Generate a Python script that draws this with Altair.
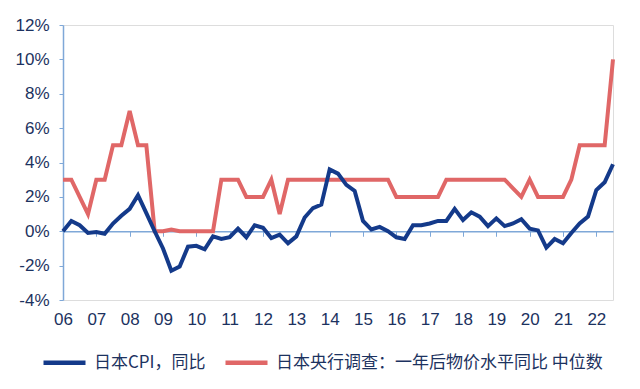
import altair as alt
import pandas as pd

# Quarterly readings, 2006Q1 .. 2022Q3
cpi = [
    0.0, 0.6, 0.35, -0.1,
    -0.05, -0.15, 0.45, 0.9,
    1.3, 2.1, 1.05, 0.0,
    -1.0, -2.3, -2.05, -0.9,
    -0.85, -1.05, -0.3, -0.45,
    -0.35, 0.15, -0.35, 0.35,
    0.2, -0.4, -0.2, -0.7,
    -0.3, 0.8, 1.35, 1.55,
    3.6, 3.35, 2.7, 2.35,
    0.6, 0.1, 0.25, 0.0,
    -0.35, -0.45, 0.35, 0.35,
    0.45, 0.6, 0.6, 1.3,
    0.65, 1.1, 0.85, 0.3,
    0.75, 0.3, 0.45, 0.7,
    0.15, 0.05, -0.95, -0.45,
    -0.7, -0.1, 0.45, 0.85,
    2.4, 2.85, 3.9,
]
survey = [
    3, 3, 2, 1,
    3, 3, 5, 5,
    7, 5, 5, 0,
    0, 0.1, 0, 0,
    0, 0, 0, 3,
    3, 3, 2, 2,
    2, 3, 1, 3,
    3, 3, 3, 3,
    3, 3, 3, 3,
    3, 3, 3, 3,
    2, 2, 2, 2,
    2, 2, 3, 3,
    3, 3, 3, 3,
    3, 3, 2.5, 2,
    3, 2, 2, 2,
    2, 3, 5, 5,
    5, 5, 10,
]
quarters = [2006 + 0.25 * i for i in range(len(cpi))]
year_ticks = list(range(2006, 2023))
y_ticks = [-4, -2, 0, 2, 4, 6, 8, 10, 12]

name_cpi = "日本CPI，同比"
name_survey = "日本央行调查：一年后物价水平同比 中位数"

df_cpi = pd.DataFrame({"t": quarters, "v": cpi, "s": name_cpi})
df_survey = pd.DataFrame({"t": quarters, "v": survey, "s": name_survey})

BLUE = "#143a8a"
RED = "#e06767"
AXIS = "#7fa8d8"
TEXT = "#1c3260"

x_enc = alt.X(
    "t:Q",
    scale=alt.Scale(domain=[2006, 2022.5], nice=False, zero=False),
    axis=alt.Axis(
        values=year_ticks,
        labelExpr="substring(toString(datum.value), 2, 4)",
        title=None,
        grid=False,
        offset=-68.75,
        domainColor=AXIS,
        domainWidth=1.5,
        tickColor=AXIS,
        tickSize=5,
        tickWidth=1,
        labelPadding=75,
        labelFlush=False,
        labelFont="Liberation Sans",
        labelFontSize=17,
        labelColor=TEXT,
    ),
)
y_enc = alt.Y(
    "v:Q",
    scale=alt.Scale(domain=[-4, 12], nice=False),
    axis=alt.Axis(
        values=y_ticks,
        labelExpr="datum.value + '%'",
        title=None,
        grid=False,
        domainColor=AXIS,
        domainWidth=1.5,
        tickColor=AXIS,
        tickSize=4,
        labelPadding=10,
        labelFont="Liberation Sans",
        labelFontSize=17,
        labelColor=TEXT,
    ),
)
color_enc = alt.Color(
    "s:N",
    scale=alt.Scale(domain=[name_cpi, name_survey], range=[BLUE, RED]),
    legend=alt.Legend(
        title=None,
        orient="none",
        direction="horizontal",
        legendX=-22,
        legendY=314,
        symbolType="stroke",
        symbolSize=1764,
        symbolStrokeWidth=4.5,
        labelFont="Noto Sans CJK SC",
        labelFontSize=17,
        labelColor=TEXT,
        labelLimit=0,
        labelOffset=6,
        columnPadding=10,
        padding=0,
    ),
)

red = alt.Chart(df_survey).mark_line(strokeWidth=4).encode(x=x_enc, y=y_enc, color=color_enc)
blue = alt.Chart(df_cpi).mark_line(strokeWidth=4).encode(x=x_enc, y=y_enc, color=color_enc)

chart = (
    alt.layer(red, blue)
    .properties(
        width=550,
        height=275,
        padding={"left": 55, "top": 17, "right": 10, "bottom": 80},
        autosize=alt.AutoSizeParams(type="none"),
    )
    .configure_view(stroke=None)
    .configure(background="white")
)

chart.save("out.html", embed_options={"renderer": "svg", "actions": False})
